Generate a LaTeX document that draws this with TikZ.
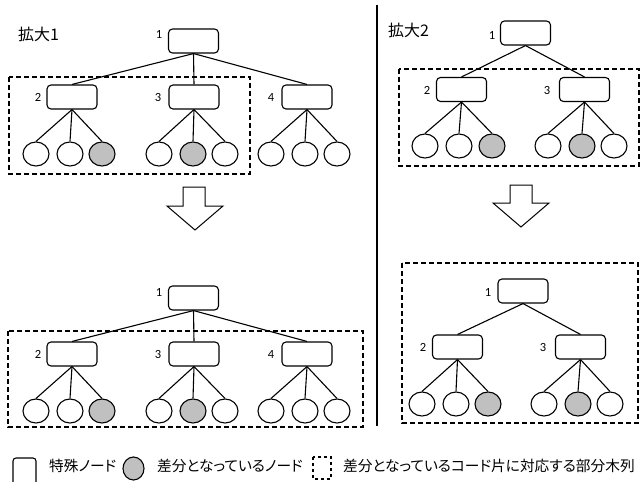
\documentclass[tikz,border=0pt]{standalone}
\usepackage{fontspec}
\usetikzlibrary{shapes.geometric}
\newfontfamily\jpfont[RawFeature=+palt]{Noto Sans CJK JP}
\newfontfamily\numfont{Carlito}
\definecolor{leafgray}{RGB}{192,192,192}
\tikzset{
  box/.style={draw, rounded corners=4pt, minimum width=50pt, minimum height=24pt, inner sep=0pt, line width=1.1pt},
  leaf/.style={draw, ellipse, minimum width=26pt, minimum height=24pt, inner sep=0pt, line width=1.1pt, fill=white},
  hot/.style={leaf, fill=leafgray},
  num/.style={font=\numfont\fontsize{12.5}{12.5}\selectfont, inner sep=0pt},
  edge/.style={line width=1.1pt},
  region/.style={draw, dash pattern=on 5pt off 3pt, line width=1.1pt},
  jp/.style={font=\jpfont\fontsize{14.7}{14.7}\selectfont, inner sep=0pt},
  title/.style={font=\jpfont\fontsize{16}{16}\selectfont, inner sep=0pt},
  bigarrow/.style={draw, line width=1pt, fill=white, line join=miter},
}
\begin{document}
\begin{tikzpicture}[x=1pt,y=-1pt]
\useasboundingbox (0,0) rectangle (644,481);
\fill[white] (0,0) rectangle (644,481);

% titles
\node[title, anchor=west] (t1) at (18,34.5) {拡大1};
\node[title, anchor=west] (t2) at (388,30) {拡大2};

% separator
\draw[line width=1.3pt] (377,5) -- (377,426);

% left trees (before / after)
\foreach \t/\dy/\ly in {a/0/34, c/257/35} {
  \begin{scope}[yshift=-\dy pt]
    \node[box] (\t1) at (193.5,41) {};
    \node[num] (\t1-n) at (159,\ly) {1};
    \foreach \n/\x/\lx in {2/72/38, 3/194/158, 4/307/271} {
      \node[box] (\t\n) at (\x,97) {};
      \node[num] (\t\n-n) at (\lx,97.5) {\n};
      \draw[edge] (\t1.south) -- (\t\n.north);
    }
    \foreach \p/\i/\x/\s in {2/1/36/leaf, 2/2/70/leaf, 2/3/102/hot,
                            3/1/159/leaf, 3/2/193/hot, 3/3/225/leaf,
                            4/1/271/leaf, 4/2/305/leaf, 4/3/337/leaf} {
      \node[\s] (\t\p-\i) at (\x,154) {};
      \draw[edge] (\t\p.south) -- (\t\p-\i.north);
    }
  \end{scope}
}
\draw[region] (9,77) rectangle (250,174);
\draw[region] (8,331) rectangle (363,427);

% top right tree
\node[box] (b1) at (525.5,33) {};
\node[num] (b1-n) at (492,35) {1};
\foreach \n/\x/\lx in {2/461.5/427, 3/584.5/547} {
  \node[box] (b\n) at (\x,89.5) {};
  \node[num] (b\n-n) at (\lx,90) {\n};
  \draw[edge] (b1.south) -- (b\n.north);
}
\foreach \p/\i/\x/\s in {2/1/425/leaf, 2/2/459/leaf, 2/3/492/hot,
                        3/1/548/leaf, 3/2/582/hot, 3/3/614/leaf} {
  \node[\s] (b\p-\i) at (\x,146) {};
  \draw[edge] (b\p.south) -- (b\p-\i.north);
}
\draw[region] (399,69) rectangle (639,166);

% bottom right tree
\node[box] (d1) at (523,291) {};
\node[num] (d1-n) at (488,292.5) {1};
\foreach \n/\x/\lx in {2/457.5/423, 3/580.5/543} {
  \node[box] (d\n) at (\x,347) {};
  \node[num] (d\n-n) at (\lx,347.5) {\n};
  \draw[edge] (d1.south) -- (d\n.north);
}
\foreach \p/\i/\x/\s in {2/1/422/leaf, 2/2/456/leaf, 2/3/488/hot,
                        3/1/544/leaf, 3/2/578/hot, 3/3/610/leaf} {
  \node[\s] (d\p-\i) at (\x,404) {};
  \draw[edge] (d\p.south) -- (d\p-\i.north);
}
\draw[region] (402,263) rectangle (638,423);

% hollow arrows
\draw[bigarrow] (183,187) -- (205,187) -- (205,206) -- (223,206) -- (195,230) -- (167,206) -- (183,206) -- cycle;
\draw[bigarrow] (510,185) -- (532,185) -- (532,203) -- (549,203) -- (521,227) -- (493,203) -- (510,203) -- cycle;

% legend
\draw[line width=1.1pt, rounded corners=3pt] (13,490) -- (13,458) -- (36,458) -- (36,490);
\node[jp, anchor=west] (lg1) at (49,466) {特殊ノード};
\node[draw, ellipse, fill=leafgray, line width=1.1pt, minimum width=21pt, minimum height=23pt, inner sep=0pt] (lgc) at (133.5,468.5) {};
\node[jp, anchor=west] (lg2) at (157,466) {差分となっているノード};
\draw[dash pattern=on 3pt off 3pt, line width=1.1pt] (313,457) rectangle (331,479);
\node[jp, anchor=west] (lg3) at (343,466) {差分となっているコード片に対応する部分木列};
\end{tikzpicture}
\end{document}
